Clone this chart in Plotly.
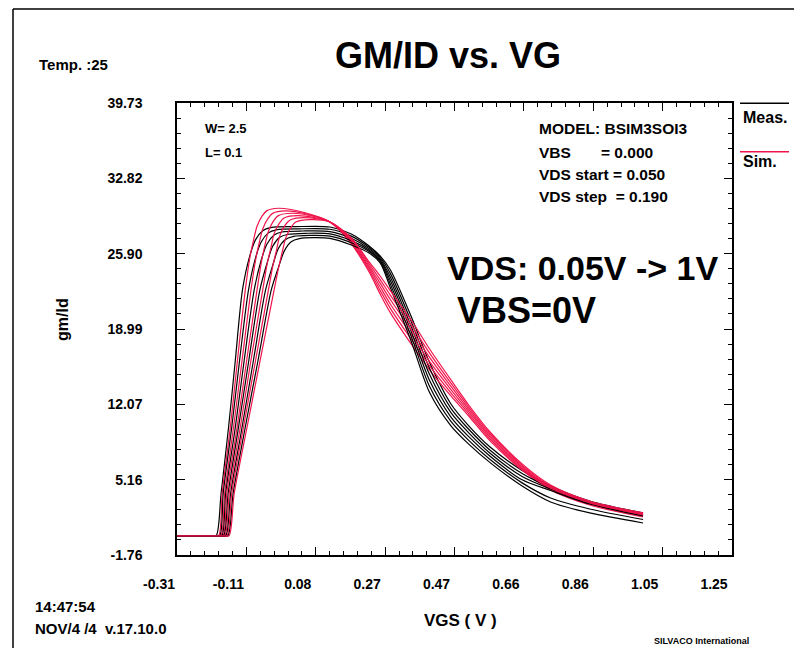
import plotly.graph_objects as go

# ---------------- data ----------------
DECL_VGS = [0.12, 0.18, 0.23, 0.261, 0.29, 0.35, 0.40, 0.46, 0.51, 0.57, 0.66, 0.74, 0.85, 1.00]

# measured (black) curves, VDS = 1.00 -> 0.05
MEAS_HEAD_VGS_1 = [-0.31, -0.215, -0.200, -0.186, -0.165, -0.146, -0.126, -0.106, -0.089, -0.069, -0.047, 0.022]
MEAS_GMID_1 = [0, 0, 0, 3.93, 9.99, 16.14, 22.57, 25.63, 27.19, 28.01, 28.29, 28.38,
               28.35, 27.71, 26.61, 25.69, 24.40, 20.00, 15.90, 12.10, 10.10, 8.15, 6.00, 4.58, 3.20, 2.10]
MEAS_HEAD_VGS_2 = [-0.31, -0.205, -0.190, -0.180, -0.156, -0.134, -0.109, -0.090, -0.073, -0.053, -0.031, 0.032]
MEAS_GMID_2 = [0, 0, 0, 3.93, 9.99, 16.14, 22.57, 25.43, 26.99, 27.81, 28.09, 28.18,
               28.14, 27.51, 26.48, 25.56, 24.07, 19.54, 15.35, 11.70, 9.78, 7.86, 5.72, 4.44, 3.11, 2.01]
MEAS_HEAD_VGS_3 = [-0.31, -0.199, -0.184, -0.173, -0.146, -0.121, -0.093, -0.074, -0.057, -0.037, -0.015, 0.042]
MEAS_GMID_3 = [0, 0, 0, 3.93, 9.99, 16.14, 22.57, 25.23, 26.79, 27.61, 27.89, 27.98,
               27.93, 27.31, 26.35, 25.43, 23.74, 19.08, 14.80, 11.30, 9.45, 7.58, 5.44, 4.30, 3.01, 1.91]
MEAS_HEAD_VGS_4 = [-0.31, -0.194, -0.179, -0.166, -0.137, -0.108, -0.077, -0.057, -0.041, -0.021, 0.002, 0.052]
MEAS_GMID_4 = [0, 0, 0, 3.93, 9.99, 16.14, 22.57, 25.02, 26.58, 27.40, 27.68, 27.77,
               27.72, 27.10, 26.22, 25.30, 23.41, 18.62, 14.25, 10.90, 9.10, 7.30, 5.14, 4.16, 2.92, 1.82]
MEAS_HEAD_VGS_5 = [-0.31, -0.188, -0.173, -0.159, -0.127, -0.095, -0.061, -0.041, -0.025, -0.005, 0.018, 0.062]
MEAS_GMID_5 = [0, 0, 0, 3.93, 9.99, 16.14, 22.57, 24.82, 26.38, 27.20, 27.48, 27.57,
               27.51, 26.90, 26.09, 25.18, 23.08, 18.16, 13.70, 10.50, 8.76, 7.00, 4.86, 3.47, 2.46, 1.50]
MEAS_HEAD_VGS_6 = [-0.31, -0.182, -0.167, -0.152, -0.118, -0.082, -0.045, -0.025, -0.008, 0.011, 0.034, 0.072]
MEAS_GMID_6 = [0, 0, 0, 3.93, 9.99, 16.14, 22.57, 24.62, 26.18, 27.00, 27.28, 27.37,
               27.30, 26.70, 25.96, 25.05, 22.75, 17.70, 13.15, 10.10, 8.42, 6.72, 4.57, 3.11, 2.10, 1.18]

# simulated (red) curves
SIM_HEAD_VGS_1 = [-0.31, -0.208, -0.193, -0.183, -0.160, -0.140, -0.118, -0.105, -0.095, -0.085, -0.071, -0.057, -0.025, 0.045]
SIM_GMID_1 = [0, 0, 0, 3.93, 9.99, 16.14, 22.57, 25.57, 27.13, 28.42, 29.34, 29.85, 30.07, 29.70,
              28.81, 26.79, 24.22, 22.20, 20.46, 17.52, 15.22, 12.84, 11.00, 8.71, 6.04, 4.21, 2.83, 1.73]
SIM_HEAD_VGS_2 = [-0.31, -0.202, -0.187, -0.176, -0.151, -0.127, -0.102, -0.089, -0.079, -0.069, -0.055, -0.041, -0.006, 0.065]
SIM_GMID_2 = [0, 0, 0, 3.93, 9.99, 16.14, 22.57, 25.32, 26.88, 28.17, 29.09, 29.60, 29.82, 29.45,
              28.81, 26.90, 24.40, 22.53, 20.86, 17.96, 15.61, 13.13, 11.20, 8.87, 6.15, 4.30, 2.90, 1.80]
SIM_HEAD_VGS_3 = [-0.31, -0.196, -0.181, -0.170, -0.141, -0.114, -0.085, -0.073, -0.063, -0.053, -0.039, -0.025, 0.014, 0.084]
SIM_GMID_3 = [0, 0, 0, 3.93, 9.99, 16.14, 22.57, 25.11, 26.67, 27.96, 28.88, 29.39, 29.61, 29.24,
              28.81, 27.01, 24.59, 22.86, 21.26, 18.40, 15.99, 13.43, 11.41, 9.04, 6.26, 4.39, 2.98, 1.88]
SIM_HEAD_VGS_4 = [-0.31, -0.191, -0.176, -0.163, -0.132, -0.102, -0.069, -0.057, -0.046, -0.037, -0.023, -0.009, 0.031]
SIM_GMID_4 = [0, 0, 0, 3.93, 9.99, 16.14, 22.57, 24.89, 26.45, 27.74, 28.66, 29.17, 29.39,
              28.81, 27.12, 24.77, 23.19, 21.67, 18.84, 16.38, 13.72, 11.61, 9.20, 6.37, 4.48, 3.05, 1.95]
SIM_HEAD_VGS_5 = [-0.31, -0.185, -0.170, -0.156, -0.123, -0.089, -0.053, -0.041, -0.030, -0.021, -0.007, 0.008, 0.048]
SIM_GMID_5 = [0, 0, 0, 3.93, 9.99, 16.14, 22.57, 24.71, 26.27, 27.56, 28.48, 28.99, 29.21,
              28.81, 27.23, 24.96, 23.52, 22.07, 19.28, 16.77, 14.01, 11.81, 9.37, 6.49, 4.58, 3.13, 2.02]
SIM_HEAD_VGS_6 = [-0.31, -0.179, -0.164, -0.149, -0.113, -0.076, -0.037, -0.025, -0.014, -0.004, 0.010, 0.024, 0.064]
SIM_GMID_6 = [0, 0, 0, 3.93, 9.99, 16.14, 22.57, 24.52, 26.08, 27.37, 28.29, 28.80, 29.02,
              28.81, 27.34, 25.14, 23.85, 22.48, 19.72, 17.15, 14.31, 12.01, 9.53, 6.60, 4.67, 3.20, 2.10]

X_TICKS = [-0.31, -0.115, 0.08, 0.275, 0.47, 0.665, 0.86, 1.055, 1.25]
X_LABELS = ["-0.31", "-0.11", "0.08", "0.27", "0.47", "0.66", "0.86", "1.05", "1.25"]
Y_TICKS = [-1.76, 5.155, 12.07, 18.985, 25.90, 32.815, 39.73]
Y_LABELS = ["-1.76", "5.16", "12.07", "18.99", "25.90", "32.82", "39.73"]

MEAS = [(MEAS_HEAD_VGS_1, MEAS_GMID_1), (MEAS_HEAD_VGS_2, MEAS_GMID_2), (MEAS_HEAD_VGS_3, MEAS_GMID_3),
        (MEAS_HEAD_VGS_4, MEAS_GMID_4), (MEAS_HEAD_VGS_5, MEAS_GMID_5), (MEAS_HEAD_VGS_6, MEAS_GMID_6)]
SIM = [(SIM_HEAD_VGS_1, SIM_GMID_1), (SIM_HEAD_VGS_2, SIM_GMID_2), (SIM_HEAD_VGS_3, SIM_GMID_3),
       (SIM_HEAD_VGS_4, SIM_GMID_4), (SIM_HEAD_VGS_5, SIM_GMID_5), (SIM_HEAD_VGS_6, SIM_GMID_6)]

# ---------------- styling ----------------
OFF = 8                      # page body margin
W, H = 802 - OFF, 648 - OFF
L, T = 177 - OFF, 103 - OFF
PW, PH = 555, 452
R, B = W - L - PW, H - T - PH
FONT = "Liberation Sans, Arial, sans-serif"
RED = "#f0144b"


def P(px, py):
    """page pixel -> paper coordinates"""
    return (px - OFF - L) / PW, (H - B - (py - OFF)) / PH


fig = go.Figure()
for (mx, my), (sx, sy) in zip(MEAS, SIM):
    fig.add_trace(go.Scatter(x=mx + DECL_VGS, y=my, mode="lines",
                             line=dict(color="black", width=1.2, shape="spline", smoothing=0.8),
                             hoverinfo="skip", showlegend=False))
    fig.add_trace(go.Scatter(x=sx + DECL_VGS, y=sy, mode="lines",
                             line=dict(color=RED, width=1.2, shape="spline", smoothing=0.8),
                             hoverinfo="skip", showlegend=False))


def minor_vals(major, n=5):
    out = []
    for a, b in zip(major[:-1], major[1:]):
        for k in range(1, n):
            out.append(a + (b - a) * k / n)
    return out


axis_common = dict(showline=True, linecolor="black", linewidth=1.5, mirror="allticks",
                   ticks="inside", ticklen=8, tickwidth=1, tickcolor="black",
                   showgrid=False, zeroline=False,
                   tickfont=dict(family=FONT, size=14, color="black", weight="bold"))

fig.update_xaxes(range=[X_TICKS[0], X_TICKS[-1]], tickmode="array", tickvals=X_TICKS, ticktext=X_LABELS,
                 ticklabelstandoff=15, ticklabelshift=-18,
                 minor=dict(ticks="inside", ticklen=4, tickcolor="black", tickwidth=1,
                            tickmode="array", tickvals=minor_vals(X_TICKS), showgrid=False),
                 **axis_common)
fig.update_yaxes(range=[Y_TICKS[0], Y_TICKS[-1]], tickmode="array", tickvals=Y_TICKS, ticktext=Y_LABELS,
                 ticklabelstandoff=30,
                 minor=dict(ticks="inside", ticklen=4, tickcolor="black", tickwidth=1,
                            tickmode="array", tickvals=minor_vals(Y_TICKS), showgrid=False),
                 **axis_common)

annots = []


def txt(s, px, py, size, xanchor="left", angle=0):
    x, y = P(px, py)
    annots.append(dict(text="<b>" + s + "</b>", x=x, y=y, xref="paper", yref="paper",
                       xanchor=xanchor, yanchor="middle", showarrow=False, textangle=angle,
                       font=dict(family=FONT, size=size, color="black")))


NB = "\u00a0"
txt("GM/ID vs. VG", 448, 55, 36, "center")
txt("Temp. :25", 37, 65, 15)
txt("W= 2.5", 203, 129, 13)
txt("L= 0.1", 203, 153, 13)
txt("MODEL: BSIM3SOI3", 537, 129, 15.5)
txt("VBS" + NB * 7 + "= 0.000", 537, 152, 15.5)
txt("VDS start = 0.050", 537, 174, 15.5)
txt("VDS step" + NB * 2 + "= 0.190", 537, 196, 15.5)
txt("VDS: 0.05V -> 1V", 445, 268, 34)
txt("VBS=0V", 455, 310, 36)
txt("Meas.", 741, 117, 16)
txt("Sim.", 741, 161, 16)
txt("gm/Id", 62, 320, 16, "center", -90)
txt("VGS ( V )", 460, 620, 17, "center")
txt("14:47:54", 33, 606, 15)
txt("NOV/4 /4" + NB * 2 + "v.17.10.0", 33, 628, 15)
txt("SILVACO International", 652, 641, 9)

shapes = []


def seg(xa, ya, xb, yb, color, width=1.5):
    x0, y0 = P(xa, ya)
    x1, y1 = P(xb, yb)
    shapes.append(dict(type="line", xref="paper", yref="paper", x0=x0, x1=x1, y0=y0, y1=y1,
                       line=dict(color=color, width=width)))


seg(740, 103.3, 789, 103.3, "black")
seg(740, 151.7, 789, 151.7, RED)
# outer frame (left and top edges)
seg(13, 9, 13, 660, "black")
seg(13, 9, 810, 9, "black")

fig.update_layout(width=W, height=H, margin=dict(l=L, r=R, t=T, b=B, autoexpand=False),
                  paper_bgcolor="white", plot_bgcolor="white",
                  annotations=annots, shapes=shapes, showlegend=False)

fig.write_html("out.html")
